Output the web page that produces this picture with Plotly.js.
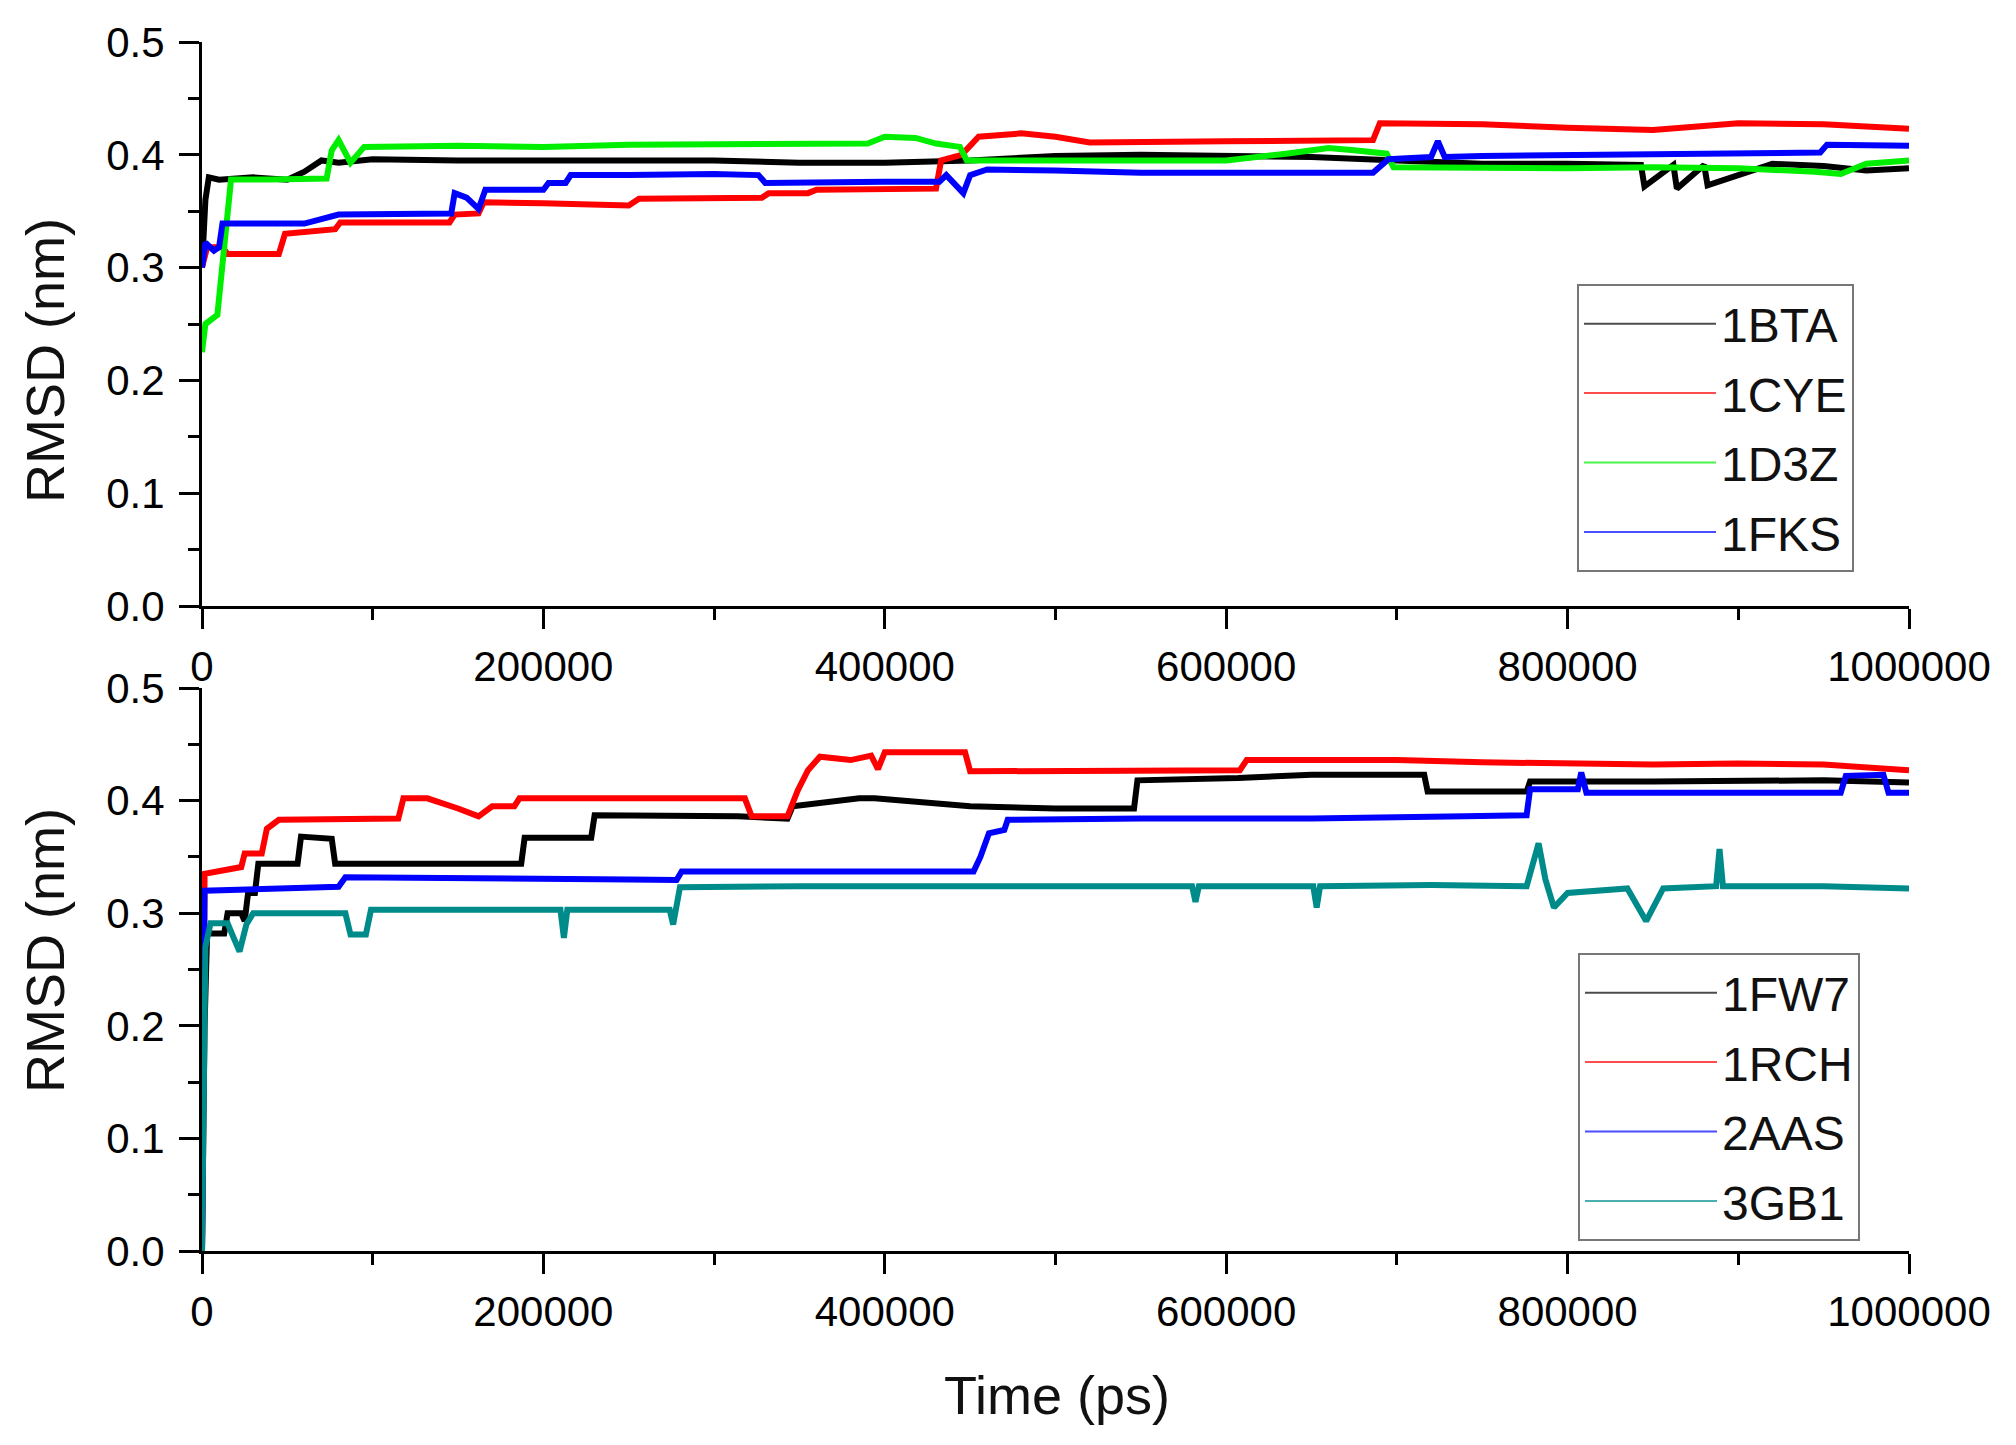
<!DOCTYPE html>
<html>
<head>
<meta charset="utf-8">
<script src="https://cdn.plot.ly/plotly-3.0.1.min.js"></script>
<style>
  html, body { margin: 0; padding: 0; background: #fff; }
  #chart { width: 2016px; height: 1445px; }
</style>
</head>
<body>
<div id="chart"></div>
<script>
// values, time in ps, RMSD in nm

// top panel
const t1BTA = [0, 2000, 4000, 10000, 30000, 50000, 60000, 70000, 80000, 100000, 150000, 200000, 250000, 300000, 350000, 400000, 450000, 500000, 550000, 600000, 650000, 700000, 750000, 800000, 843000, 845000, 862000, 864000, 880000, 882000, 920000, 950000, 975000, 1000000];
const v1BTA = [0.300, 0.360, 0.380, 0.378, 0.380, 0.378, 0.385, 0.395, 0.393, 0.396, 0.395, 0.395, 0.394, 0.395, 0.393, 0.393, 0.395, 0.399, 0.400, 0.399, 0.398, 0.395, 0.392, 0.392, 0.391, 0.372, 0.391, 0.370, 0.391, 0.373, 0.392, 0.390, 0.386, 0.388];

const t1CYE = [0, 3000, 12000, 15000, 45000, 48600, 78000, 81000, 145000, 148000, 162000, 165000, 200000, 250000, 256000, 300000, 328000, 332000, 355000, 360000, 400000, 430000, 433000, 445000, 455000, 480000, 500000, 520000, 600000, 650000, 686000, 690000, 750000, 800000, 850000, 900000, 950000, 1000000];
const v1CYE = [0.300, 0.318, 0.318, 0.312, 0.312, 0.330, 0.334, 0.340, 0.340, 0.347, 0.348, 0.358, 0.357, 0.355, 0.361, 0.361, 0.362, 0.366, 0.366, 0.369, 0.369, 0.370, 0.395, 0.400, 0.416, 0.419, 0.416, 0.411, 0.412, 0.412, 0.413, 0.428, 0.427, 0.424, 0.422, 0.428, 0.427, 0.423];

const t1D3Z = [0, 2000, 9000, 13000, 17000, 40000, 73000, 76000, 80000, 87000, 95000, 150000, 200000, 250000, 300000, 350000, 390000, 400000, 418000, 430000, 444000, 448000, 500000, 550000, 600000, 635000, 660000, 675000, 694000, 698000, 750000, 800000, 850000, 900000, 945000, 960000, 975000, 1000000];
const v1D3Z = [0.225, 0.250, 0.258, 0.320, 0.378, 0.378, 0.379, 0.404, 0.413, 0.393, 0.407, 0.408, 0.407, 0.409, 0.409, 0.409, 0.410, 0.416, 0.415, 0.410, 0.407, 0.395, 0.395, 0.395, 0.395, 0.401, 0.406, 0.404, 0.401, 0.389, 0.388, 0.388, 0.389, 0.388, 0.385, 0.383, 0.392, 0.395];

const t1FKS = [0, 2000, 7000, 10000, 12000, 60000, 80000, 146000, 148000, 155000, 162000, 166000, 200000, 203000, 213000, 216000, 250000, 300000, 326000, 330000, 400000, 432000, 436000, 446000, 450000, 460000, 500000, 550000, 600000, 650000, 686000, 695000, 720000, 724000, 728000, 750000, 800000, 850000, 900000, 948000, 952000, 1000000];
const v1FKS = [0.300, 0.322, 0.315, 0.318, 0.339, 0.339, 0.347, 0.348, 0.366, 0.362, 0.352, 0.369, 0.369, 0.375, 0.375, 0.382, 0.382, 0.383, 0.382, 0.375, 0.376, 0.376, 0.382, 0.366, 0.382, 0.387, 0.386, 0.384, 0.384, 0.384, 0.384, 0.396, 0.398, 0.412, 0.398, 0.399, 0.400, 0.400, 0.401, 0.402, 0.409, 0.408];

// bottom panel
const t1FW7 = [0, 1500, 3000, 13000, 15000, 23000, 25000, 27000, 31000, 33000, 56000, 58000, 76000, 78000, 84000, 187000, 189000, 228000, 230000, 250000, 314000, 343000, 346000, 385000, 394000, 450000, 500000, 546000, 548000, 607000, 650000, 716000, 718000, 776000, 778000, 850000, 900000, 950000, 1000000];
const v1FW7 = [0.000, 0.200, 0.282, 0.282, 0.300, 0.300, 0.293, 0.318, 0.318, 0.344, 0.344, 0.368, 0.366, 0.344, 0.344, 0.344, 0.367, 0.367, 0.387, 0.387, 0.386, 0.384, 0.395, 0.402, 0.402, 0.395, 0.393, 0.393, 0.418, 0.420, 0.423, 0.423, 0.408, 0.408, 0.417, 0.417, 0.418, 0.418, 0.416];

const t1RCH = [0, 1500, 23000, 25000, 35000, 38000, 45000, 80000, 115000, 118000, 132000, 150000, 162000, 170000, 183000, 186000, 250000, 318000, 322000, 343000, 349000, 355000, 362000, 380000, 392000, 396000, 400000, 447000, 450000, 500000, 550000, 608000, 612000, 700000, 750000, 800000, 850000, 900000, 950000, 1000000];
const v1RCH = [0.000, 0.335, 0.341, 0.353, 0.353, 0.375, 0.383, 0.384, 0.384, 0.402, 0.402, 0.393, 0.386, 0.395, 0.395, 0.402, 0.402, 0.402, 0.386, 0.386, 0.409, 0.427, 0.439, 0.436, 0.440, 0.428, 0.443, 0.443, 0.426, 0.426, 0.426, 0.427, 0.436, 0.436, 0.434, 0.433, 0.432, 0.433, 0.432, 0.427];

const t2AAS = [0, 1500, 80000, 84000, 250000, 278000, 281000, 452000, 456000, 461000, 470000, 472000, 550000, 650000, 740000, 776000, 778000, 806000, 808000, 811000, 900000, 960000, 963000, 985000, 988000, 1000000];
const v2AAS = [0.000, 0.320, 0.3235, 0.332, 0.330, 0.3295, 0.337, 0.337, 0.350, 0.371, 0.374, 0.383, 0.384, 0.384, 0.386, 0.387, 0.410, 0.410, 0.425, 0.407, 0.407, 0.407, 0.422, 0.423, 0.407, 0.407];

const t3GB1 = [0, 2000, 5000, 15000, 18000, 22000, 26000, 30000, 84000, 87000, 96000, 99000, 150000, 210000, 212000, 214000, 250000, 274000, 276000, 280000, 350000, 450000, 580000, 582000, 584000, 651000, 653000, 655000, 720000, 776000, 780000, 783000, 787000, 792000, 800000, 835000, 846000, 856000, 887000, 889000, 891000, 950000, 1000000];
const v3GB1 = [0.000, 0.270, 0.291, 0.291, 0.280, 0.266, 0.290, 0.300, 0.300, 0.281, 0.281, 0.303, 0.303, 0.303, 0.278, 0.303, 0.303, 0.303, 0.290, 0.323, 0.324, 0.324, 0.324, 0.310, 0.324, 0.324, 0.305, 0.324, 0.325, 0.324, 0.345, 0.362, 0.330, 0.305, 0.318, 0.322, 0.293, 0.322, 0.324, 0.357, 0.324, 0.324, 0.322];

const topNames = ['1BTA', '1CYE', '1D3Z', '1FKS'];
const topT = [t1BTA, t1CYE, t1D3Z, t1FKS];
const topV = [v1BTA, v1CYE, v1D3Z, v1FKS];
const topColors = ['#000000', '#ff0000', '#00ee00', '#0000ff'];

const botNames = ['1FW7', '1RCH', '2AAS', '3GB1'];
const botT = [t1FW7, t1RCH, t2AAS, t3GB1];
const botV = [v1FW7, v1RCH, v2AAS, v3GB1];
const botColors = ['#000000', '#ff0000', '#0000ff', '#008b8b'];

const yTicks = [0, 0.1, 0.2, 0.3, 0.4, 0.5];
const xTicks = [0, 200000, 400000, 600000, 800000, 1000000];

const FONT = '"Liberation Sans", Arial, sans-serif';

const traces = [];
// data lines, legend entries are drawn by thin key-only traces below
function addPanel(names, ts, vs, colors, xa, ya, leg) {
  names.forEach((name, i) => {
    traces.push({
      x: ts[i], y: vs[i], name: name,
      type: 'scatter', mode: 'lines',
      xaxis: xa, yaxis: ya, showlegend: false,
      line: { color: colors[i], width: 6 },
    });
  });
  names.forEach((name, i) => {
    traces.push({
      x: [null], y: [null], name: name,
      type: 'scatter', mode: 'lines',
      xaxis: xa, yaxis: ya,
      legend: leg, legendgroup: name,
      line: { color: colors[i], width: 2 },
      opacity: 0.7,
    });
  });
}
addPanel(topNames, topT, topV, topColors, 'x', 'y', 'legend');
addPanel(botNames, botT, botV, botColors, 'x2', 'y2', 'legend2');

const xAxis = (anchor) => ({
  anchor: anchor,
  domain: [202 / 2016, 1909 / 2016],
  range: [0, 1000000],
  tickvals: xTicks,
  tickformat: 'd',
  showgrid: false, zeroline: false,
  showline: true, linecolor: '#000', linewidth: 3,
  ticks: 'outside', ticklen: 20, tickwidth: 3, tickcolor: '#000',
  ticklabelstandoff: 2,
  minor: { dtick: 100000, ticks: 'outside', ticklen: 11, tickwidth: 3, tickcolor: '#000' },
  tickfont: { family: FONT, size: 42, color: '#000' },
});

const yAxis = (anchor, domain) => ({
  anchor: anchor,
  domain: domain,
  range: [0, 0.5],
  tickvals: yTicks,
  tickformat: '.1f',
  showgrid: false, zeroline: false,
  showline: true, linecolor: '#000', linewidth: 3,
  ticks: 'outside', ticklen: 20, tickwidth: 3, tickcolor: '#000',
  ticklabelstandoff: 6,
  minor: { dtick: 0.05, ticks: 'outside', ticklen: 11, tickwidth: 3, tickcolor: '#000' },
  tickfont: { family: FONT, size: 42, color: '#000' },
});

const legendStyle = (x, y) => ({
  x: x, y: y, xanchor: 'left', yanchor: 'top',
  xref: 'paper', yref: 'paper',
  bgcolor: '#fff', bordercolor: '#777', borderwidth: 2,
  font: { family: FONT, size: 48, color: '#111' },
  itemwidth: 132,
  tracegroupgap: 4,
});

const titleFont = { family: FONT, size: 54, color: '#111' };

const layout = {
  width: 2016,
  height: 1445,
  margin: { l: 0, r: 0, t: 0, b: 0 },
  paper_bgcolor: '#fff',
  plot_bgcolor: '#fff',
  showlegend: true,
  xaxis: xAxis('y'),
  yaxis: yAxis('x', [1 - 606 / 1445, 1 - 42 / 1445]),
  xaxis2: xAxis('y2'),
  yaxis2: yAxis('x2', [1 - 1251 / 1445, 1 - 688 / 1445]),
  legend: legendStyle(1577 / 2016, 1 - 284 / 1445),
  legend2: legendStyle(1578 / 2016, 1 - 953 / 1445),
  annotations: [
    { text: 'RMSD (nm)', x: 45 / 2016, y: 1 - 361 / 1445, xref: 'paper', yref: 'paper',
      xanchor: 'center', yanchor: 'middle', textangle: -90, showarrow: false, font: titleFont },
    { text: 'RMSD (nm)', x: 45 / 2016, y: 1 - 951 / 1445, xref: 'paper', yref: 'paper',
      xanchor: 'center', yanchor: 'middle', textangle: -90, showarrow: false, font: titleFont },
    { text: 'Time (ps)', x: 1057 / 2016, y: 1 - 1395 / 1445, xref: 'paper', yref: 'paper',
      xanchor: 'center', yanchor: 'middle', showarrow: false, font: titleFont },
  ],
};

Plotly.newPlot('chart', traces, layout, { staticPlot: true });
</script>
</body>
</html>
